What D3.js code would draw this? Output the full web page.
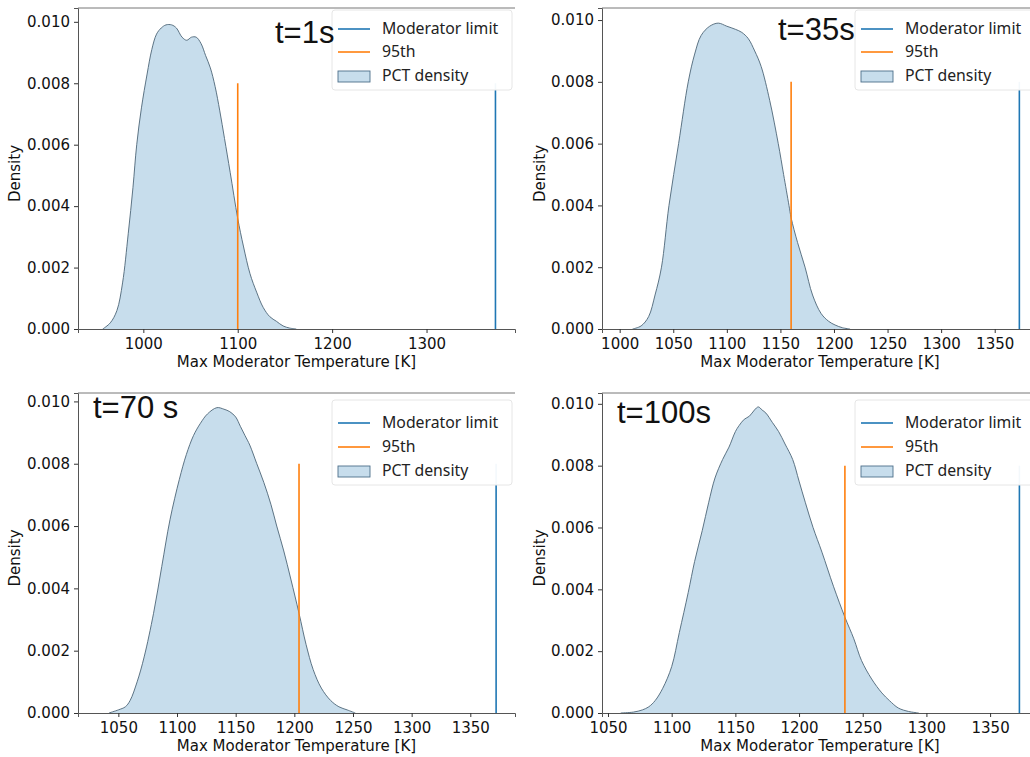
<!DOCTYPE html>
<html>
<head>
<meta charset="utf-8">
<script src="https://cdn.jsdelivr.net/npm/d3@7"></script>
<style>
  body { margin: 0; background: #fff; }
  svg { display: block; }
  .tick text { font-family: "DejaVu Sans", sans-serif; font-size: 15px; fill: #111; }
  .axis-label { font-family: "DejaVu Sans", sans-serif; font-size: 15px; fill: #111; }
  .legend text { font-family: "Noto Sans", "DejaVu Sans", sans-serif; font-size: 15.8px; fill: #222; }
  .title { font-family: "Liberation Sans", Arial, sans-serif; font-size: 31px; fill: #111; }
</style>
</head>
<body>
<svg id="chart" width="1030" height="757"></svg>
<script>
// values (temperature K, density)
const titles = ["t=1s", "t=35s", "t=70 s", "t=100s"];
const percentile95 = [1100, 1160, 1204, 1236];
const moderatorLimit = [1373, 1373, 1372, 1373];
const xTicks = [
  [1000, 1100, 1200, 1300],
  [1000, 1050, 1100, 1150, 1200, 1250, 1300, 1350],
  [1050, 1100, 1150, 1200, 1250, 1300, 1350],
  [1050, 1100, 1150, 1200, 1250, 1300, 1350]
];
const yTicks = [0, 0.002, 0.004, 0.006, 0.008, 0.010];

const kde1 = [[957, 0], [965, 0.0002], [972, 0.0006], [978, 0.0015], [984, 0.0031], [989, 0.0046],
  [993, 0.0060], [998, 0.0072], [1004, 0.0083], [1009, 0.0091], [1014, 0.0096], [1019, 0.0098],
  [1024, 0.0099], [1030, 0.0099], [1035, 0.0098], [1041, 0.0095], [1046, 0.0094], [1051, 0.0095],
  [1056, 0.0095], [1061, 0.0093], [1066, 0.0089], [1071, 0.0085], [1076, 0.0079], [1081, 0.0071],
  [1086, 0.0062], [1092, 0.0051], [1100, 0.0036], [1106, 0.0027], [1113, 0.0018], [1120, 0.0012],
  [1127, 0.0007], [1134, 0.0004], [1141, 0.00025], [1148, 0.0001], [1155, 0.00003], [1162, 0]];
const kde2 = [[1012, 0], [1020, 0.0001], [1027, 0.0004], [1033, 0.0011], [1039, 0.0020], [1046, 0.0040],
  [1055, 0.0060], [1064, 0.0080], [1070, 0.0089], [1076, 0.0095], [1084, 0.0098], [1092, 0.0099],
  [1100, 0.0098], [1108, 0.0097], [1114, 0.0096], [1120, 0.0094], [1126, 0.0090], [1132, 0.0085],
  [1140, 0.0074], [1148, 0.0060], [1153, 0.0050], [1158, 0.0040], [1160, 0.0036], [1166, 0.0028],
  [1173, 0.0020], [1180, 0.0011], [1188, 0.0005], [1195, 0.00025], [1201, 0.00013], [1208, 0.00004], [1215, 0]];
const kde3 = [[1042, 0], [1050, 0.0001], [1056, 0.0002], [1060, 0.0004], [1066, 0.0010], [1072, 0.0018],
  [1080, 0.0032], [1087, 0.0047], [1094, 0.0062], [1102, 0.0075], [1108, 0.0083], [1114, 0.0089],
  [1120, 0.0093], [1126, 0.0096], [1134, 0.0098], [1140, 0.00975], [1145, 0.00967], [1150, 0.0095],
  [1154, 0.0092], [1158, 0.0089], [1162, 0.0086], [1168, 0.0080], [1174, 0.0074], [1180, 0.0067],
  [1185, 0.0060], [1191, 0.0052], [1197, 0.0043], [1204, 0.0032], [1210, 0.0022], [1216, 0.0014],
  [1223, 0.0008], [1231, 0.0004], [1238, 0.0002], [1245, 0.0001], [1252, 0]];
const kde4 = [[1060, 0], [1070, 0.00003], [1077, 0.0001], [1082, 0.0002], [1087, 0.0004], [1093, 0.0008],
  [1100, 0.0015], [1106, 0.0026], [1113, 0.0039], [1118, 0.0049], [1124, 0.0059], [1129, 0.0068],
  [1134, 0.0076], [1140, 0.0082], [1145, 0.0086], [1150, 0.0091], [1153, 0.0093], [1157, 0.0095],
  [1161, 0.0096], [1165, 0.0098], [1168, 0.0099], [1171, 0.0098], [1174, 0.0097], [1179, 0.0094],
  [1184, 0.0091], [1189, 0.0087], [1195, 0.0082], [1200, 0.0075], [1205, 0.0068], [1211, 0.0060],
  [1218, 0.0052], [1227, 0.0041], [1236, 0.0031], [1243, 0.0024], [1249, 0.0017], [1257, 0.0011],
  [1265, 0.00065], [1271, 0.0004], [1278, 0.00016], [1286, 0.00005], [1294, 0]];
const kdes = [kde1, kde2, kde3, kde4];

// panel frames in page pixels and their axis ranges
const panels = [
  { left: 78, right: 515, top: 8, bottom: 329, xDom: [930.8, 1393.7], yMax: 0.01045, ylabX: 15, titleX: 275, titleY: 43, legX: 332, legY: 10 },
  { left: 602, right: 1038, top: 8, bottom: 329, xDom: [983.5, 1390.4], yMax: 0.01039, ylabX: 540, titleX: 778, titleY: 40, legX: 855, legY: 10 },
  { left: 78, right: 515, top: 393, bottom: 713, xDom: [1015.6, 1388.1], yMax: 0.01027, ylabX: 15, titleX: 93, titleY: 418, legX: 332, legY: 400 },
  { left: 602, right: 1038, top: 393, bottom: 713, xDom: [1045.3, 1387.6], yMax: 0.01035, ylabX: 540, titleX: 617, titleY: 423, legX: 855, legY: 400 }
];

const C0 = "#1f77b4", C1 = "#ff7f0e";
const svg = d3.select("#chart");

panels.forEach((p, i) => {
  const x = d3.scaleLinear().domain(p.xDom).range([p.left, p.right]);
  const y = d3.scaleLinear().domain([0, p.yMax]).range([p.bottom, p.top]);
  const g = svg.append("g");

  // density fill and outline
  const curve = d3.curveCatmullRom.alpha(0.5);
  const area = d3.area().x(d => x(d[0])).y0(y(0)).y1(d => y(Math.max(0, d[1]))).curve(curve);
  const line = d3.line().x(d => x(d[0])).y(d => y(d[1])).curve(curve);
  g.append("path").datum(kdes[i]).attr("d", area)
    .attr("fill", C0).attr("fill-opacity", 0.25);
  g.append("path").datum(kdes[i]).attr("d", line)
    .attr("fill", "none").attr("stroke", "#4d6577").attr("stroke-width", 0.9);

  // vertical markers
  g.append("line")
    .attr("x1", x(percentile95[i])).attr("x2", x(percentile95[i]))
    .attr("y1", y(0)).attr("y2", y(0.008))
    .attr("stroke", C1).attr("stroke-width", 1.6);
  g.append("line")
    .attr("x1", x(moderatorLimit[i])).attr("x2", x(moderatorLimit[i]))
    .attr("y1", y(0)).attr("y2", y(0.008))
    .attr("stroke", C0).attr("stroke-width", 1.6);

  // axes
  g.append("g").attr("transform", `translate(0,${p.bottom})`)
    .call(d3.axisBottom(x).tickValues(xTicks[i]).tickSize(4).tickPadding(5).tickFormat(d3.format("d")))
    .call(a => a.select(".domain").attr("stroke", "#555"))
    .call(a => a.selectAll(".tick line").attr("stroke", "#333"));
  g.append("g").attr("transform", `translate(${p.left},0)`)
    .call(d3.axisLeft(y).tickValues(yTicks).tickSize(4).tickPadding(4).tickFormat(d3.format(".3f")))
    .call(a => a.select(".domain").attr("stroke", "#555"))
    .call(a => a.selectAll(".tick line").attr("stroke", "#333"));
  g.append("line").attr("x1", p.left).attr("x2", p.right).attr("y1", p.top).attr("y2", p.top)
    .attr("stroke", "#777");

  g.append("text").attr("class", "axis-label")
    .attr("x", (p.left + p.right) / 2).attr("y", p.bottom + 38)
    .attr("text-anchor", "middle").text("Max Moderator Temperature [K]");
  g.append("text").attr("class", "axis-label")
    .attr("transform", `translate(${p.ylabX + 5},${(p.top + p.bottom) / 2 + 5}) rotate(-90)`)
    .attr("text-anchor", "middle").text("Density");

  // legend
  const leg = g.append("g").attr("class", "legend").attr("transform", `translate(${p.legX},${p.legY})`);
  leg.append("rect").attr("width", 180).attr("height", i < 2 ? 80 : 85).attr("rx", 3)
    .attr("fill", "#fff").attr("fill-opacity", 0.95).attr("stroke", "#e6e6e6");
  const rows = [
    { label: "Moderator limit", kind: "line", color: C0 },
    { label: "95th", kind: "line", color: C1 },
    { label: "PCT density", kind: "patch", color: C0 }
  ];
  const rowY = i < 2 ? [19, 42, 66] : [23, 47, 71];
  rows.forEach((r, k) => {
    if (r.kind === "line") {
      leg.append("line").attr("x1", 6).attr("x2", 38).attr("y1", rowY[k]).attr("y2", rowY[k])
        .attr("stroke", r.color).attr("stroke-width", 1.6);
    } else {
      leg.append("rect").attr("x", 6).attr("y", rowY[k] - 5).attr("width", 32).attr("height", 11)
        .attr("fill", r.color).attr("fill-opacity", 0.25).attr("stroke", "#4d6f8a").attr("stroke-width", 0.9);
    }
    leg.append("text").attr("x", 50).attr("y", rowY[k] + 5).text(r.label);
  });

  g.append("text").attr("class", "title").attr("x", p.titleX).attr("y", p.titleY).text(titles[i]);
});
</script>
</body>
</html>
